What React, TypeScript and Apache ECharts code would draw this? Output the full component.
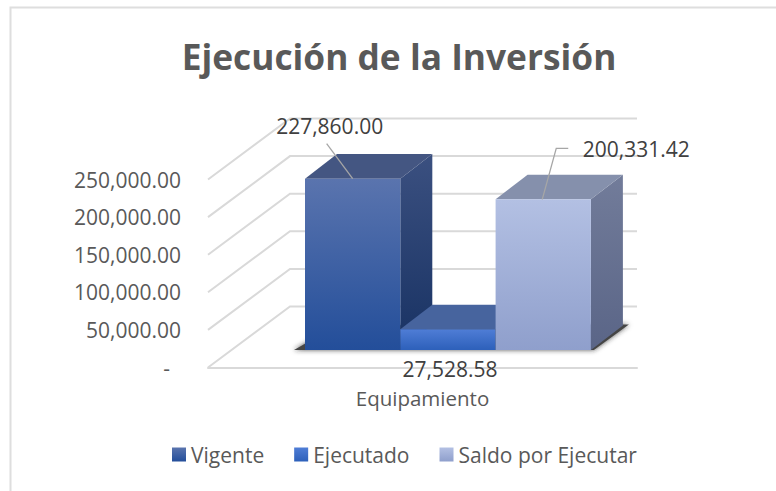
import React, { useEffect, useRef } from "react";
import * as echarts from "echarts";

const titleText = "Ejecución de la Inversión";
const categories = ["Equipamiento"];
const seriesNames = ["Vigente", "Ejecutado", "Saldo por Ejecutar"];
const vigente = [227860.0];
const ejecutado = [27528.58];
const saldo = [200331.42];
const yTicks = [0, 50000, 100000, 150000, 200000, 250000];

const FONT = "'Open Sans', sans-serif";
const grad = (a: string, b: string) =>
  new echarts.graphic.LinearGradient(0, 0, 0, 1, [
    { offset: 0, color: a },
    { offset: 1, color: b },
  ]);

const palette = [
  { front: ["#5a74ae", "#234e9a"], side: ["#3b5080", "#183263"], top: "#445682" },
  { front: ["#4f7dd6", "#2d60ba"], side: ["#243f78", "#183263"], top: "#47649e" },
  { front: ["#b3c0e3", "#8f9fcc"], side: ["#727c9a", "#5a6587"], top: "#8590ac" },
];

const BAR_W = 95.3;
const BAR_LEFT = -117.5;
const LIFT = 17.5;
const DX = 32;
const DY = 24.6;
const WALL_DX = 82;
const WALL_DY = 61;

const lineColor = "#d9d9d9";
const leaderColor = "#a6a6a6";

const fmt = (v: number) =>
  v.toLocaleString("en-US", { minimumFractionDigits: 2, maximumFractionDigits: 2 });

function barRenderer(i: number) {
  return (_p: any, api: any) => {
    const [cx, y0] = api.coord([0, 0]);
    const [, yv] = api.coord([0, api.value(1)]);
    const x1 = cx + BAR_LEFT + i * BAR_W;
    const x2 = x1 + BAR_W;
    const b = y0 - LIFT;
    const t = yv - LIFT;
    const c = palette[i];
    return {
      type: "group",
      children: [
        { type: "polygon", shape: { points: [[x2, t], [x2 + DX, t - DY], [x2 + DX, b - DY], [x2, b]] }, style: { fill: grad(c.side[0], c.side[1]) } },
        { type: "polygon", shape: { points: [[x1, t], [x1 + DX, t - DY], [x2 + DX, t - DY], [x2, t]] }, style: { fill: c.top } },
        { type: "rect", shape: { x: x1, y: t, width: BAR_W, height: b - t }, style: { fill: grad(c.front[0], c.front[1]) } },
      ],
    };
  };
}

function labelRenderer(i: number) {
  return (_p: any, api: any) => {
    const [cx, y0] = api.coord([0, 0]);
    const v = api.value(1);
    const [, yv] = api.coord([0, v]);
    const x1 = cx + BAR_LEFT + i * BAR_W;
    const mid = x1 + BAR_W / 2;
    const t = yv - LIFT;
    const textStyle = { text: fmt(v), fill: "#404040", font: `21px ${FONT}`, align: "center", verticalAlign: "middle" };
    const children: any[] = [];
    if (i === 0) {
      children.push({ type: "polyline", shape: { points: [[mid, t], [mid - 26, t - 35]] }, style: { stroke: leaderColor, lineWidth: 1.3, fill: "none" } });
      children.push({ type: "text", x: mid - 23, y: t - 53, style: textStyle });
    } else if (i === 1) {
      children.push({ type: "text", x: mid + 2, y: y0 + 1.5, style: textStyle });
    } else {
      children.push({ type: "polyline", shape: { points: [[mid - 1, t], [mid + 13, t - 51], [mid + 25, t - 51]] }, style: { stroke: leaderColor, lineWidth: 1.3, fill: "none" } });
      children.push({ type: "text", x: mid + 93, y: t - 50.5, style: textStyle });
    }
    return { type: "group", children };
  };
}

export default function App() {
  const ref = useRef<HTMLDivElement>(null);
  useEffect(() => {
    if (!ref.current) return;
    const chart = echarts.init(ref.current, undefined, { renderer: "svg" });
    const values = [vigente, ejecutado, saldo];
    chart.setOption({
      animation: false,
      backgroundColor: "#ffffff",
      textStyle: { fontFamily: FONT },
      title: {
        text: titleText,
        left: 394,
        top: 33,
        textAlign: "center",
        textStyle: { fontFamily: FONT, fontSize: 35.3, fontWeight: "bold", color: "#595959" },
      },
      legend: {
        data: seriesNames,
        left: 172,
        top: 444,
        padding: 0,
        icon: "rect",
        itemWidth: 14,
        itemHeight: 14,
        itemGap: 30,
        textStyle: { fontFamily: FONT, fontSize: 21, color: "#595959" },
      },
      grid: { left: 208, right: 139, top: 179.5, bottom: 123.5 },
      xAxis: {
        type: "category",
        data: categories,
        axisLine: { lineStyle: { color: lineColor, width: 2 } },
        axisTick: { show: false },
        axisLabel: { color: "#595959", fontFamily: FONT, fontSize: 20.5, margin: 20 },
      },
      yAxis: {
        type: "value",
        min: 0,
        max: 250000,
        interval: 50000,
        axisLine: { show: false },
        axisTick: { show: false },
        splitLine: { show: false },
        axisLabel: {
          color: "#595959",
          fontFamily: FONT,
          fontSize: 21,
          margin: 27,
          padding: [6, 0, 0, 0],
          formatter: (v: number) => (v === 0 ? "-\u00A0\u00A0" : fmt(v)),
        },
      },
      graphic: [
        {
          type: "polyline",
          shape: { points: [[10.5, 491], [10.5, 7.5], [776, 7.5]] },
          style: { fill: "none", stroke: "#dedede", lineWidth: 2 },
          silent: true,
          z: -1,
        },
      ],
      series: [
        {
          type: "custom",
          name: "grid",
          silent: true,
          clip: false,
          z: 1,
          data: yTicks.map((t) => [0, t]),
          renderItem: (p: any, api: any) => {
            const [, y] = api.coord([0, api.value(1)]);
            const l = p.coordSys.x;
            const r = l + p.coordSys.width;
            return {
              type: "polyline",
              shape: { points: [[l, y], [l + WALL_DX, y - WALL_DY], [r, y - WALL_DY]] },
              style: { stroke: lineColor, lineWidth: 2, fill: "none" },
            };
          },
        },
        {
          type: "custom",
          name: "shadow",
          silent: true,
          clip: false,
          z: 2,
          data: [[0, 0]],
          renderItem: (_p: any, api: any) => {
            const [cx, y0] = api.coord([0, 0]);
            const b = y0 - LIFT;
            const x1 = cx + BAR_LEFT;
            const x2 = x1 + 3 * BAR_W;
            return {
              type: "polygon",
              shape: { points: [[x1 - 11, b], [x1 + DX, b - DY], [x2 + DX + 6, b - DY - 1], [x2 + 3, b]] },
              style: { fill: "#454545", shadowBlur: 5, shadowColor: "rgba(40,40,40,0.8)" },
            };
          },
        },
        ...seriesNames.map((name, i) => ({
          type: "custom",
          name,
          clip: false,
          z: 3 + i,
          itemStyle: { color: grad(palette[i].front[0], palette[i].front[1]) },
          data: values[i].map((v, k) => [k, v]),
          renderItem: barRenderer(i),
        })),
        ...seriesNames.map((_n, i) => ({
          type: "custom",
          name: "label" + i,
          silent: true,
          clip: false,
          z: 10,
          data: values[i].map((v, k) => [k, v]),
          renderItem: labelRenderer(i),
        })),
      ],
    });
    return () => chart.dispose();
  }, []);
  return <div ref={ref} style={{ position: "fixed", left: 0, top: 0, width: 776, height: 491 }} />;
}
